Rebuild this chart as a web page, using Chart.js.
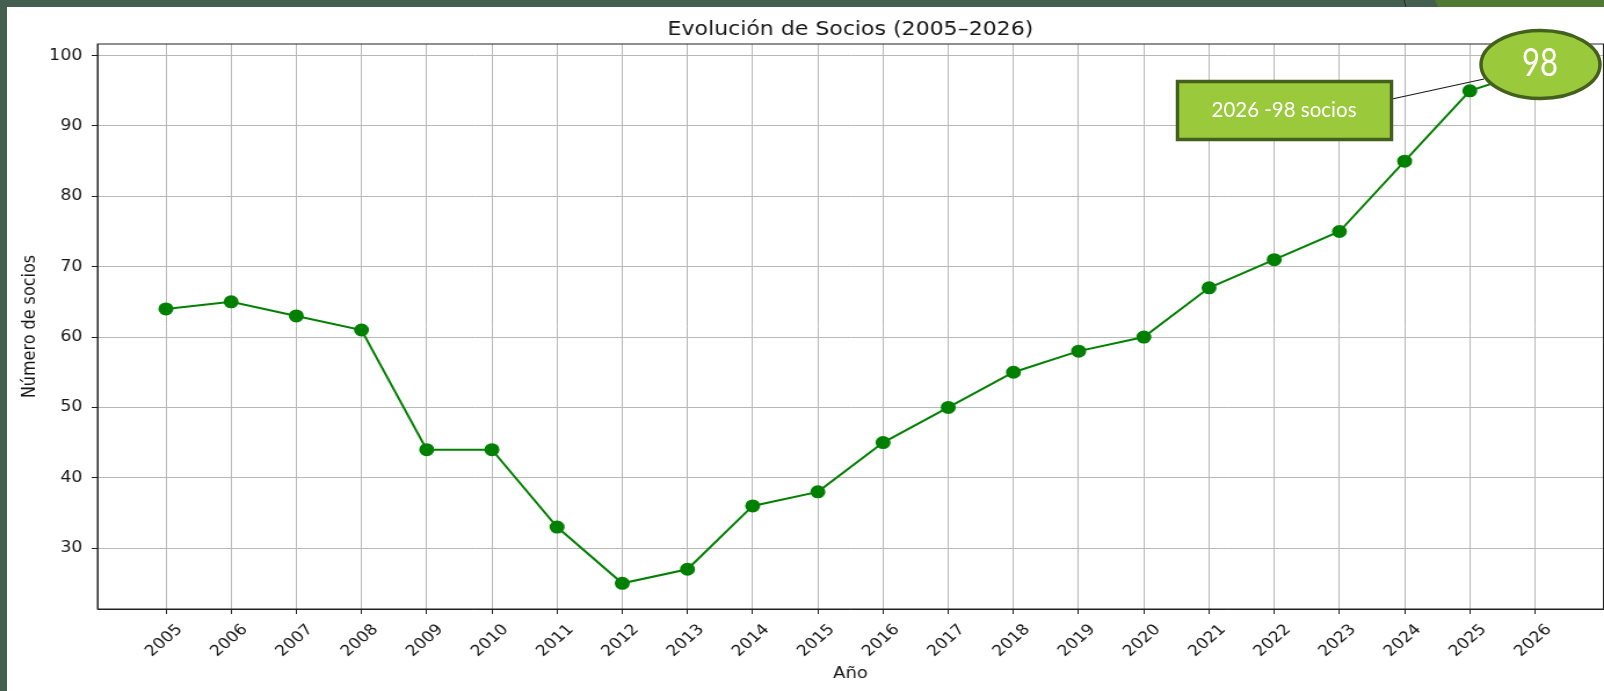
<!DOCTYPE html>
<html>
<head>
<meta charset="utf-8">
<script src="https://cdn.jsdelivr.net/npm/chart.js@4/dist/chart.umd.min.js"></script>
<style>
  html, body { margin: 0; padding: 0; }
  body { width: 1604px; height: 691px; background: #445f50; position: relative; overflow: hidden; }
  #panel { position: absolute; left: 7px; top: 7px; width: 1597px; height: 684px; background: #fff; overflow: hidden; }
  /* the original picture is a bit stretched sideways, so stretch the canvas the same way */
  #chart { transform: scaleX(1.1598); transform-origin: 0 0; }
  #overlay { position: absolute; left: 0; top: 0; pointer-events: none; }
</style>
</head>
<body>
<div id="panel">
  <canvas id="chart" width="1384" height="684"></canvas>
</div>
<svg id="overlay" width="1604" height="691">
  <rect x="0" y="0" width="1604" height="7" fill="#445f50"/>
  <rect x="0" y="0" width="7" height="691" fill="#445f50"/>
  <polygon points="1435,0 1604,0 1604,7 1438,7" fill="#4e7a34"/>
  <line x1="1404" y1="0" x2="1406" y2="7" stroke="#1e2a22" stroke-width="1"/>
  <line x1="1392" y1="99" x2="1484" y2="79" stroke="#1a1a1a" stroke-width="1.2"/>
  <rect x="1177.5" y="81.5" width="214" height="58" fill="#9aca3c" stroke="#43601c" stroke-width="3.5"/>
  <text x="1284" y="111" text-anchor="middle" dominant-baseline="middle" fill="#fff"
        font-family="Lato, 'Liberation Sans', sans-serif" font-size="22"
        textLength="145" lengthAdjust="spacingAndGlyphs">2026 -98 socios</text>
  <ellipse cx="1540.5" cy="64.5" rx="59.5" ry="34" fill="#9aca3c" stroke="#43601c" stroke-width="3.5"/>
  <text x="1540" y="66" text-anchor="middle" dominant-baseline="middle" fill="#fff"
        font-family="Lato, 'Liberation Sans', sans-serif" font-size="38"
        textLength="36" lengthAdjust="spacingAndGlyphs">98</text>
</svg>
<script>
  // Data
  const years = [2005, 2006, 2007, 2008, 2009, 2010, 2011, 2012, 2013, 2014, 2015,
                 2016, 2017, 2018, 2019, 2020, 2021, 2022, 2023, 2024, 2025, 2026];
  const socios = [64, 65, 63, 61, 44, 44, 33, 25, 27, 36, 38,
                  45, 50, 55, 58, 60, 67, 71, 75, 85, 95, 98];
  const yTicks = [30, 40, 50, 60, 70, 80, 90, 100];

  const font = "'DejaVu Sans', sans-serif";
  const textColor = "#161616";
  const gridColor = "#b8b8b8";

  // Draws the top and right spines like matplotlib does
  const framePlugin = {
    id: "frame",
    afterDatasetsDraw(chart) {
      const { ctx, chartArea } = chart;
      ctx.save();
      ctx.strokeStyle = "#222";
      ctx.lineWidth = 1;
      ctx.strokeRect(chartArea.left, chartArea.top, chartArea.right - chartArea.left, chartArea.bottom - chartArea.top);
      ctx.restore();
    },
  };

  new Chart(document.getElementById("chart").getContext("2d"), {
    type: "line",
    data: {
      datasets: [
        {
          label: "Socios",
          data: years.map((y, i) => ({ x: y, y: socios[i] })),
          borderColor: "#008000",
          backgroundColor: "#008000",
          borderWidth: 2,
          pointRadius: 5.5,
          pointHoverRadius: 5.5,
          fill: false,
          tension: 0,
        },
      ],
    },
    options: {
      responsive: false,
      animation: false,
      devicePixelRatio: 1,
      layout: { padding: { left: 0, right: 1, top: 0, bottom: 0 } },
      plugins: {
        legend: { display: false },
        tooltip: { enabled: false },
        title: {
          display: true,
          fullSize: false,
          text: "Evolución de Socios (2005–2026)",
          color: textColor,
          font: { family: font, size: 19, weight: "normal", lineHeight: 1.2 },
          padding: { top: 11.6, bottom: 2.6 },
        },
      },
      scales: {
        x: {
          type: "linear",
          min: 2003.95,
          max: 2027.05,
          afterBuildTicks: (axis) => { axis.ticks = years.map((v) => ({ value: v })); },
          afterFit: (axis) => { axis.height = 82; },
          ticks: {
            autoSkip: false,
            maxRotation: 45,
            minRotation: 45,
            labelOffset: 12,
            padding: 7,
            color: textColor,
            font: { family: font, size: 15 },
            callback: (v) => String(v),
          },
          grid: { color: gridColor, lineWidth: 1, tickLength: 5, tickColor: "#222" },
          border: { color: "#222", width: 1 },
          title: {
            display: true,
            text: "Año",
            color: textColor,
            font: { family: font, size: 15.5 },
            padding: { top: 0, bottom: 8 },
          },
        },
        y: {
          type: "linear",
          min: 21.35,
          max: 101.65,
          afterBuildTicks: (axis) => { axis.ticks = yTicks.map((v) => ({ value: v })); },
          afterFit: (axis) => { axis.width = 78; },
          ticks: {
            padding: 8,
            color: textColor,
            font: { family: font, size: 15 },
          },
          grid: { color: gridColor, lineWidth: 1, tickLength: 5, tickColor: "#222" },
          border: { color: "#222", width: 1 },
          title: {
            display: true,
            text: "Número de socios",
            color: textColor,
            font: { family: font, size: 16 },
            padding: { top: 10, bottom: 0 },
          },
        },
      },
    },
    plugins: [framePlugin],
  });
</script>
</body>
</html>
